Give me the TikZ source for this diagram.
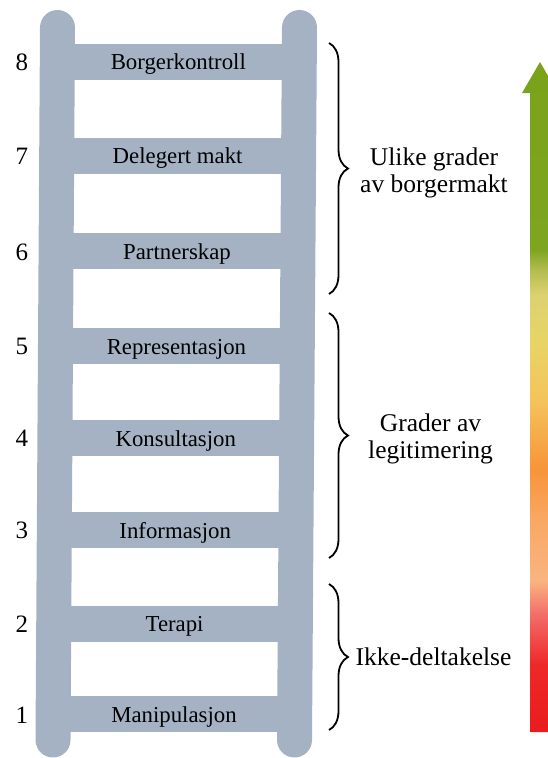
\documentclass[tikz,border=0pt]{standalone}
\usepackage{fontspec}
\setmainfont{Liberation Serif}
\newfontfamily\labelfont{Liberation Serif}
\usetikzlibrary{decorations.pathreplacing}

\definecolor{ladder}{RGB}{164,178,196}
% colour stops of the participation arrow, bottom to top
\definecolor{gA}{RGB}{233,28,30}
\definecolor{gB}{RGB}{238,40,40}
\definecolor{gC}{RGB}{242,108,104}
\definecolor{gD}{RGB}{249,180,128}
\definecolor{gE}{RGB}{249,168,100}
\definecolor{gF}{RGB}{247,148,58}
\definecolor{gG}{RGB}{244,196,92}
\definecolor{gH}{RGB}{232,212,102}
\definecolor{gI}{RGB}{220,210,112}
\definecolor{gJ}{RGB}{178,188,78}
\definecolor{gK}{RGB}{125,165,32}
\definecolor{gL}{RGB}{122,163,26}
\pgfdeclareverticalshading{powergrad}{100bp}{%
  color(0bp)=(gA); color(25bp)=(gA); color(30bp)=(gB); color(33.7bp)=(gC);
  color(36.3bp)=(gD); color(40.8bp)=(gE); color(44.6bp)=(gF); color(49.8bp)=(gG);
  color(54.2bp)=(gH); color(57.6bp)=(gI); color(59.5bp)=(gJ); color(61bp)=(gK);
  color(75bp)=(gL); color(100bp)=(gL)}

\begin{document}
\begin{tikzpicture}[x=1pt,y=-1pt,
  rung/.style={fill=ladder, minimum width=242pt, minimum height=36pt, inner sep=0pt,
    font=\labelfont\fontsize{22.8}{27}\selectfont, text height=16pt, text depth=0pt},
  rail/.style={draw=ladder, line width=35pt, line cap=round},
  steplabel/.style={inner sep=0pt, font=\labelfont\fontsize{25}{28}\selectfont, text height=17pt, text depth=0pt},
  groupbrace/.style={decorate, decoration={brace, amplitude=19pt}, line width=1.8pt},
  grouplabel/.style={align=center, inner sep=0pt, font=\labelfont\fontsize{25.5}{27}\selectfont}]

\useasboundingbox (0,0) rectangle (547,758);

% rungs with their names
\node[rung] (r8) at (178.3,61.5) {Borgerkontroll};
\node[rung] (r7) at (177.6,155.5) {Delegert makt};
\node[rung] (r6) at (177.0,251) {Partnerskap};
\node[rung] (r5) at (176.4,346) {Representasjon};
\node[rung] (r4) at (175.8,438) {Konsultasjon};
\node[rung] (r3) at (175.2,530) {Informasjon};
\node[rung] (r2) at (174.6,623.5) {Terapi};
\node[rung] (r1) at (174.0,714) {Manipulasjon};

% the two rails
\coordinate (lt) at (57.5,27.5);
\coordinate (lb) at (53,740);
\coordinate (rt) at (299.5,27.5);
\coordinate (rb) at (294.5,740);
\draw[rail] (lt) -- (lb);
\draw[rail] (rt) -- (rb);

% step numbers
\node[steplabel] (n8) at (22,61.5) {8};
\node[steplabel] (n7) at (22,156) {7};
\node[steplabel] (n6) at (22,251.5) {6};
\node[steplabel] (n5) at (22,346) {5};
\node[steplabel] (n4) at (22,438) {4};
\node[steplabel] (n3) at (22,530) {3};
\node[steplabel] (n2) at (22,624) {2};
\node[steplabel] (n1) at (22,714.5) {1};

% group braces
\coordinate (b1t) at (329,43);
\coordinate (b1b) at (329,294);
\coordinate (b2t) at (329,313);
\coordinate (b2b) at (329,558);
\coordinate (b3t) at (329,584);
\coordinate (b3b) at (329,730);
\draw[groupbrace] (b1t) -- (b1b);
\draw[groupbrace] (b2t) -- (b2b);
\draw[groupbrace] (b3t) -- (b3b);

% group names
\node[grouplabel] (g1) at (434,173) {Ulike grader\\av borgermakt};
\node[grouplabel] (g2) at (430.5,439) {Grader av\\legitimering};
\node[grouplabel, anchor=base] (g3) at (433.5,665) {Ikke-deltakelse};

% shaded arrow from red (bottom) to green (top)
\shade[shading=powergrad]
  (530,732) -- (530,93) -- (522,93) -- (540,62) -- (558,93) -- (550,93) -- (550,732) -- cycle;
\end{tikzpicture}
\end{document}
